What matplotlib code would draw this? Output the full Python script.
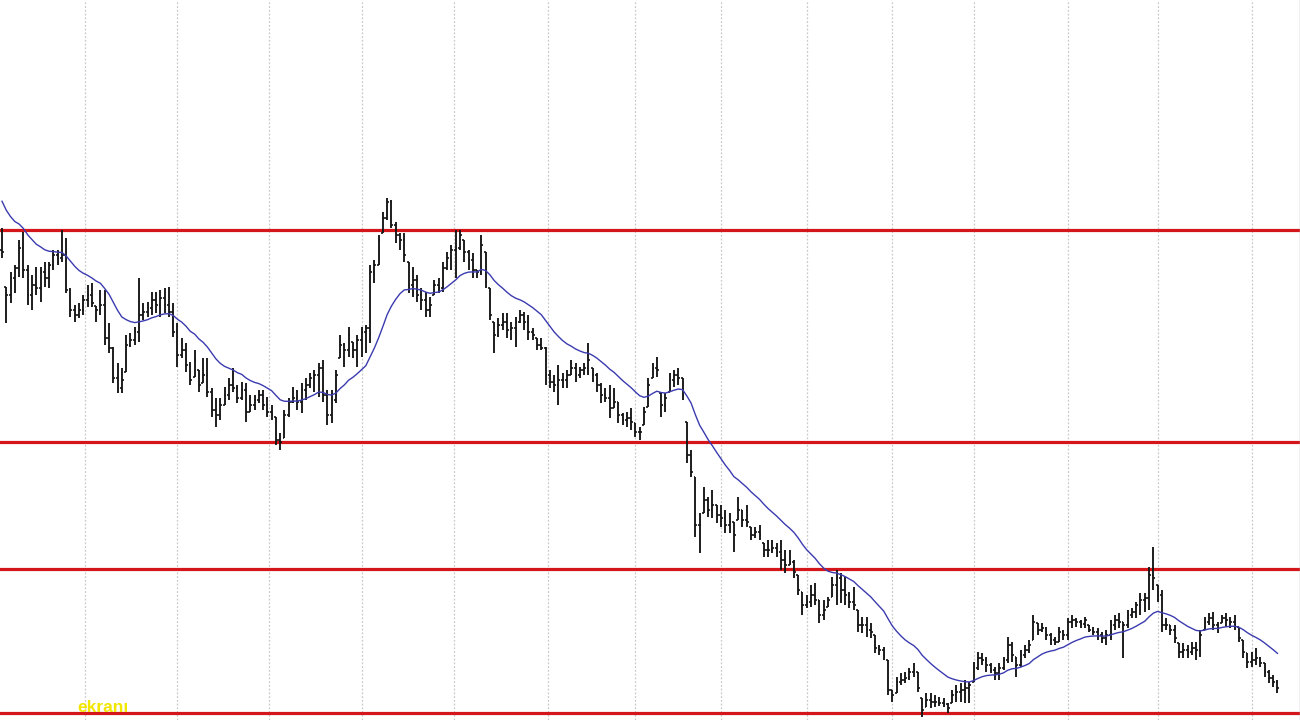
import numpy as np
import pandas as pd
import matplotlib
matplotlib.use("Agg")
import matplotlib.pyplot as plt

# ---- data (price units) ----
highs = [572,513,528,535,560,568,535,525,533,533, 538,538,550,550,570,562,512,495,497,505,
         515,517,494,510,510,477,453,437,432,465, 467,473,522,497,498,508,508,510,512,513,
         497,477,462,457,438,450,430,442,442,412, 402,402,413,422,432,415,418,417,405,405,
         410,410,403,395,383,367,390,402,413,410, 417,422,427,430,437,440,410,410,430,465,
         457,473,458,465,473,475,535,540,565,588, 602,600,578,567,567,538,533,525,512,508,
         503,520,522,538,548,555,570,570,560,550, 547,530,565,548,512,478,482,487,487,478,
         483,490,488,485,472,462,462,453,430,425, 435,427,430,440,437,433,437,457,432,427,
         417,412,415,412,398,387,388,392,377,373, 393,422,437,443,407,407,427,430,432,422,
         378,350,323,287,313,303,310,295,295,290, 287,278,303,290,295,273,273,275,257,260,
         260,257,260,250,250,240,225,208,205,215, 217,200,200,203,223,230,227,223,208,213,
         190,183,183,177,165,155,153,140,110,123, 127,128,132,137,128,102,107,107,105,103,
         102,97,110,115,117,120,118,138,148,147, 143,137,133,137,143,163,158,143,150,155,
         160,185,177,177,173,167,163,173,170,182, 185,182,180,183,175,173,172,168,170,180,
         185,187,178,190,192,198,207,207,233,253, 215,210,182,175,175,157,157,155,158,158,
         170,183,187,188,178,185,187,183,185,173, 160,147,148,152,143,137,130,125,120]
lows = [542,477,497,507,523,522,495,490,505,498, 513,512,530,535,538,507,483,478,482,485,
        493,493,478,485,455,447,417,407,407,428, 453,455,458,480,483,485,487,483,487,483,
        463,433,442,428,415,423,408,417,403,383, 373,380,395,400,408,397,400,378,388,390,
        397,390,383,380,355,350,362,383,397,390, 387,400,412,408,403,398,375,377,397,442,
        433,443,442,433,443,447,457,517,535,567, 580,572,557,550,538,507,503,498,490,483,
        483,505,507,508,530,530,522,550,538,530, 522,522,525,512,480,447,463,470,462,460,
        453,477,470,460,460,450,450,415,412,408, 395,412,412,425,418,422,425,425,418,408,
        397,398,382,392,377,375,373,370,363,360, 375,393,422,423,383,388,408,413,415,400,
        337,323,263,247,287,283,282,277,273,267, 267,248,280,273,273,260,262,260,243,243,
        247,243,230,227,235,222,205,185,192,193, 195,177,180,193,203,195,197,195,192,190,
        168,167,163,162,147,145,140,105,98,107, 115,117,120,123,108,83,93,92,93,94,
        93,87,97,98,98,97,97,118,130,135, 128,127,120,120,130,137,138,123,133,142,
        147,160,165,168,160,155,155,158,160,160, 172,173,172,172,168,165,160,157,155,160,
        170,172,142,172,182,182,185,188,190,210, 198,168,170,165,157,142,142,142,145,140,
        143,170,175,170,167,177,173,172,170,158, 142,132,133,135,133,123,117,113,107]
closes = [548,505,522,532,552,530,505,515,512,528, 522,535,545,542,545,510,490,485,490,500,
          505,497,490,495,462,452,422,412,420,455, 460,468,485,488,492,500,495,502,495,488,
          468,445,450,435,420,440,415,425,408,390, 385,395,405,415,412,402,410,388,395,400,
          405,395,388,385,360,358,385,398,402,398, 410,415,422,425,432,405,385,400,425,455,
          450,465,450,460,468,472,528,535,560,582, 598,575,565,560,545,515,520,505,500,490,
          495,515,512,532,542,550,552,565,548,540, 530,528,555,518,485,465,475,478,470,472,
          478,485,478,468,465,455,452,425,418,415, 420,420,425,432,425,430,432,440,425,415,
          405,402,392,398,385,380,382,378,368,368, 388,415,432,430,395,402,420,425,422,405,
          345,328,275,275,300,290,295,285,282,275, 278,265,290,280,278,265,268,265,250,250,
          252,248,240,235,238,228,210,195,198,205, 200,185,190,200,215,222,210,205,198,195,
          175,175,170,168,152,150,145,110,105,118, 120,122,128,130,112,90,100,98,98,97,
          96,92,105,108,110,112,115,132,142,140, 135,130,127,132,140,155,145,135,145,150,
          155,178,170,172,165,160,158,168,165,178, 180,178,176,180,170,168,165,162,165,175,
          180,178,175,185,188,195,200,202,225,222, 205,175,175,170,162,148,150,148,152,150,
          165,178,182,175,172,182,180,178,175,162, 148,138,140,142,137,128,122,118,112]
# closes of the sessions before the first visible bar (seed the moving average)
prior_closes = [640, 635, 630, 622, 615, 606, 597, 587, 577, 567, 558, 550]
ma_span = 20
levels = [570, 358, 231, 87]                      # horizontal red lines
month_starts = [19.5, 41, 62.5, 84, 105.5, 127.5, 148, 168, 188, 208, 227, 249, 270, 292]

# ---- derived ----
highs = np.array(highs, float)
lows = np.array(lows, float)
closes = np.array(closes, float)
n = len(closes)
idx = np.arange(n)
all_closes = np.concatenate([prior_closes, closes])
ma = pd.Series(all_closes).ewm(span=ma_span, adjust=False).mean().to_numpy()[len(prior_closes):]
opens = np.clip(np.concatenate([[prior_closes[-1]], closes[:-1]]), lows, highs)

# ---- figure ----
fig = plt.figure(figsize=(13, 7.2), dpi=100)
ax = fig.add_axes([0, 0, 1, 1])
ax.set_facecolor("white")

for m in month_starts:
    ax.axvline(m, color="#c9c9c9", lw=0.9, ls=(0, (1.5, 1.5)), zorder=1)

for lv in levels:
    ax.axhline(lv, color="#d4161b", lw=2.3, zorder=2)

bar_col = "#151515"
tick = 0.42
ax.vlines(idx, lows, highs, color=bar_col, lw=1.35, zorder=3)
ax.hlines(opens, idx - tick, idx, color=bar_col, lw=1.2, zorder=3)
ax.hlines(closes, idx, idx + tick, color=bar_col, lw=1.2, zorder=3)

ax.plot(idx, ma, color="#3b3bb0", lw=1.0, zorder=4)

ax.text(17.7, 92, "ekranı", color="#f2e600", fontsize=12.5, fontweight="bold",
        family=["Liberation Sans", "DejaVu Sans"], va="center", ha="left", zorder=5)

ax.set_xlim(-0.467, 303.27)
ax.set_ylim(80, 800)
ax.set_xticks([])
ax.set_yticks([])
for s in ["top", "left", "bottom"]:
    ax.spines[s].set_visible(False)
ax.spines["right"].set_color("#bbbbbb")
ax.spines["right"].set_linewidth(1.0)

fig.savefig("out.png", dpi=100, facecolor="white")
